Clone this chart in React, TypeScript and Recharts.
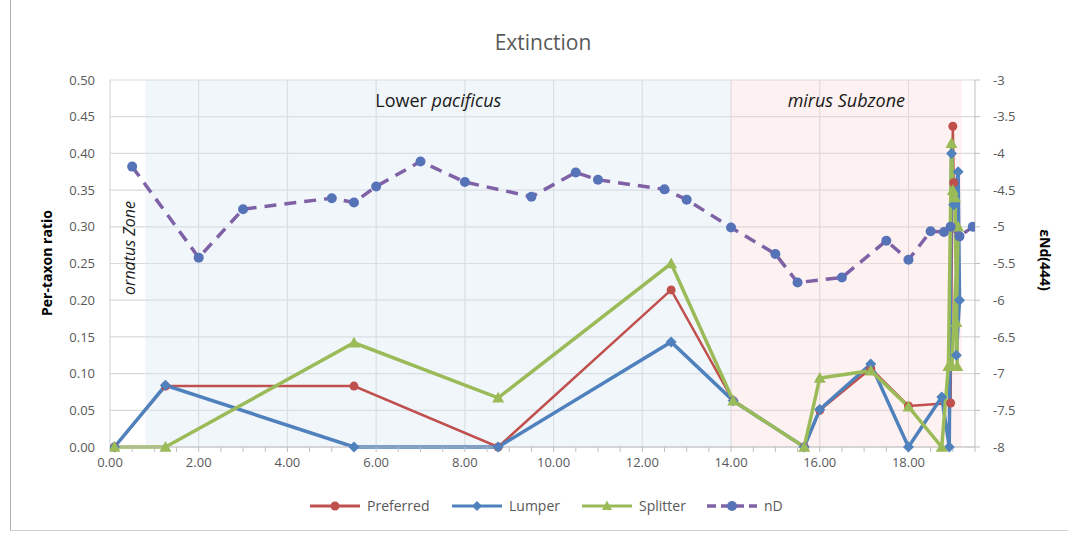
import React from "react";
import { LineChart, Line, XAxis, YAxis, CartesianGrid, ReferenceArea } from "recharts";

// stratigraphic position (x) and per-taxon extinction ratio / εNd values
const preferredPos = [0.1, 1.25, 5.5, 8.75, 12.65, 14.05, 15.65, 16.0, 17.15, 18.0, 18.95, 19.0, 19.02];
const preferredRatio = [0, 0.083, 0.083, 0, 0.214, 0.063, 0, 0.05, 0.107, 0.056, 0.06, 0.437, 0.36];

const lumperPos = [0.1, 1.25, 5.5, 8.75, 12.65, 14.05, 15.65, 16.0, 17.15, 18.0, 18.75, 18.92, 18.97, 19.02, 19.12, 19.15, 19.08];
const lumperRatio = [0, 0.084, 0, 0, 0.143, 0.063, 0, 0.051, 0.113, 0, 0.068, 0, 0.4, 0.33, 0.375, 0.2, 0.125];

const splitterPos = [0.1, 1.25, 5.5, 8.75, 12.65, 14.05, 15.65, 16.0, 17.15, 18.0, 18.75, 18.9, 18.97, 19.0, 19.05, 19.1, 19.08, 19.12, 18.98];
const splitterRatio = [0, 0, 0.142, 0.067, 0.25, 0.063, 0, 0.094, 0.104, 0.055, 0, 0.11, 0.414, 0.35, 0.34, 0.11, 0.17, 0.3, 0.11];

const ndPos = [0.5, 2, 3, 5, 5.5, 6, 7, 8, 9.5, 10.5, 11, 12.5, 13, 14, 15, 15.5, 16.5, 17.5, 18, 18.5, 18.8, 18.95, 19.15, 19.45];
const ndValue = [-4.18, -5.42, -4.76, -4.61, -4.67, -4.45, -4.11, -4.39, -4.59, -4.26, -4.36, -4.49, -4.63, -5.01, -5.37, -5.76, -5.69, -5.19, -5.45, -5.06, -5.07, -5.0, -5.13, -5.0];

const xTicks = [0, 0.5, 1, 1.5, 2, 2.5, 3, 3.5, 4, 4.5, 5, 5.5, 6, 6.5, 7, 7.5, 8, 8.5, 9, 9.5, 10, 10.5, 11, 11.5, 12, 12.5, 13, 13.5, 14, 14.5, 15, 15.5, 16, 16.5, 17, 17.5, 18, 18.5, 19, 19.5];
const xMajor = [0, 2, 4, 6, 8, 10, 12, 14, 16, 18];
const ratioTicks = [0, 0.05, 0.1, 0.15, 0.2, 0.25, 0.3, 0.35, 0.4, 0.45, 0.5];
const ndTicks = [-8, -7.5, -7, -6.5, -6, -5.5, -5, -4.5, -4, -3.5, -3];

// zone boundaries along x
const pacificusZone = [0.8, 14];
const mirusZone = [14, 19.2];

const zip = (xs: number[], ys: number[]) => xs.map((x, i) => ({ x, y: ys[i] }));

const preferredData = zip(preferredPos, preferredRatio);
const lumperData = zip(lumperPos, lumperRatio);
const splitterData = zip(splitterPos, splitterRatio);
const ndData = zip(ndPos, ndValue);

const RED = "#c0504d";
const BLUE = "#4f81bd";
const GREEN = "#9bbb59";
const PURPLE = "#7f62a6";
const ND_DOT = "#5673b8";
const TEXT = "#595959";
const FONT = "'Open Sans', sans-serif";

const circleDot = (fill: string, r: number) => (p: any) => {
  if (p.cx == null || p.cy == null) return <g key={p.key ?? p.index} />;
  return <circle key={p.key ?? p.index} cx={p.cx} cy={p.cy} r={r} fill={fill} />;
};

const diamondDot = (p: any) => {
  if (p.cx == null || p.cy == null) return <g key={p.key ?? p.index} />;
  const r = 5.5;
  const { cx, cy } = p;
  return (
    <polygon
      key={p.key ?? p.index}
      points={`${cx},${cy - r} ${cx + r},${cy} ${cx},${cy + r} ${cx - r},${cy}`}
      fill={BLUE}
    />
  );
};

const triangleDot = (p: any) => {
  if (p.cx == null || p.cy == null) return <g key={p.key ?? p.index} />;
  const r = 6;
  const { cx, cy } = p;
  return (
    <polygon
      key={p.key ?? p.index}
      points={`${cx},${cy - r} ${cx + r},${cy + r * 0.8} ${cx - r},${cy + r * 0.8}`}
      fill={GREEN}
    />
  );
};

const PacificusLabel = (props: any) => {
  const vb = props.viewBox;
  return (
    <text x={vb.x + vb.width / 2} y={vb.y + 27} textAnchor="middle" fontSize={18} fill="#1a1a1a" fontFamily={FONT}>
      Lower <tspan fontStyle="italic">pacificus</tspan>
    </text>
  );
};

const MirusLabel = (props: any) => {
  const vb = props.viewBox;
  return (
    <text x={vb.x + vb.width / 2} y={vb.y + 27} textAnchor="middle" fontSize={18} fill="#1a1a1a" fontFamily={FONT} fontStyle="italic">
      mirus Subzone
    </text>
  );
};

const LegendItem = ({ x, color, label, marker, dashed }: any) => (
  <g>
    <line x1={x} y1={506} x2={x + 50} y2={506} stroke={color} strokeWidth={dashed ? 3.5 : 3} strokeDasharray={dashed ? "9 5" : undefined} />
    {marker}
    <text x={x + 57} y={511} fontSize={14} fill={TEXT} fontFamily={FONT}>{label}</text>
  </g>
);

export default function App() {
  return (
    <div style={{ position: "absolute", left: 0, top: 0, width: 1068, height: 534, background: "#fff" }}>
      <LineChart width={1068} height={534} margin={{ top: 80, right: 0, bottom: 57, left: 0 }}>
        <ReferenceArea yAxisId="ratio" x1={pacificusZone[0]} x2={pacificusZone[1]} y1={0} y2={0.5} fill="#dde8f4" fillOpacity={0.4} stroke="none" label={<PacificusLabel />} />
        <ReferenceArea yAxisId="ratio" x1={mirusZone[0]} x2={mirusZone[1]} y1={0} y2={0.5} fill="#f9d6d6" fillOpacity={0.35} stroke="none" label={<MirusLabel />} />
        <CartesianGrid yAxisId="ratio" stroke="#d9d9d9" strokeWidth={1.2} verticalValues={xMajor} horizontalValues={ratioTicks} />
        <XAxis
          dataKey="x"
          type="number"
          domain={[0, 19.5]}
          ticks={xTicks}
          interval={0}
          allowDataOverflow
          height={30}
          tickSize={5}
          tickMargin={6}
          stroke="#bfbfbf"
          tick={{ fill: TEXT, fontSize: 13, fontFamily: FONT }}
          tickFormatter={(v: number) => (v % 2 === 0 ? v.toFixed(2) : "")}
        />
        <YAxis
          yAxisId="ratio"
          domain={[0, 0.5]}
          ticks={ratioTicks}
          interval={0}
          width={110}
          axisLine={false}
          tickLine={false}
          tickSize={0}
          tickMargin={15}
          tick={{ fill: TEXT, fontSize: 13, fontFamily: FONT }}
          tickFormatter={(v: number) => v.toFixed(2)}
        />
        <YAxis
          yAxisId="nd"
          orientation="right"
          domain={[-8, -3]}
          ticks={ndTicks}
          interval={0}
          width={93}
          stroke="#bfbfbf"
          tickSize={5}
          tickMargin={13}
          tick={{ fill: TEXT, fontSize: 13, fontFamily: FONT }}
          tickFormatter={(v: number) => String(v)}
        />
        <Line yAxisId="ratio" data={preferredData} dataKey="y" type="linear" stroke={RED} strokeWidth={2.5} dot={circleDot(RED, 4.5)} isAnimationActive={false} />
        <Line yAxisId="ratio" data={lumperData} dataKey="y" type="linear" stroke={BLUE} strokeWidth={3.5} dot={diamondDot} isAnimationActive={false} />
        <Line yAxisId="ratio" data={splitterData} dataKey="y" type="linear" stroke={GREEN} strokeWidth={3.5} dot={triangleDot} isAnimationActive={false} />
        <Line yAxisId="nd" data={ndData} dataKey="y" type="linear" stroke={PURPLE} strokeWidth={3.5} strokeDasharray="12 8" dot={circleDot(ND_DOT, 5)} isAnimationActive={false} />
      </LineChart>

      <svg width={1068} height={534} style={{ position: "absolute", left: 0, top: 0, pointerEvents: "none" }}>
        <line x1={10.5} y1={0} x2={10.5} y2={530} stroke="#b0b0b0" />
        <line x1={10} y1={530.5} x2={1068} y2={530.5} stroke="#d0d0d0" />
        <text x={543} y={50} textAnchor="middle" fontSize={21} fill={TEXT} fontFamily={FONT}>Extinction</text>
        <text x={52} y={263} transform="rotate(-90 52 263)" textAnchor="middle" fontSize={14} fontWeight="bold" fill="#000" fontFamily={FONT}>Per-taxon ratio</text>
        <text x={1040} y={260} transform="rotate(90 1040 260)" textAnchor="middle" fontSize={14} fontWeight="bold" fill="#000" fontFamily={FONT}>εNd(444)</text>
        <text x={135} y={248} transform="rotate(-90 135 248)" textAnchor="middle" fontSize={16} fontStyle="italic" fill="#1a1a1a" fontFamily={FONT}>ornatus Zone</text>
        <LegendItem x={310} color={RED} label="Preferred" marker={<circle cx={335} cy={506} r={4.5} fill={RED} />} />
        <LegendItem x={452} color={BLUE} label="Lumper" marker={<polygon points="477,501 482,506 477,511 472,506" fill={BLUE} />} />
        <LegendItem x={582} color={GREEN} label="Splitter" marker={<polygon points="607,500.5 612,510 602,510" fill={GREEN} />} />
        <LegendItem x={707} color={PURPLE} label="nD" dashed marker={<circle cx={732} cy={506} r={5} fill={ND_DOT} />} />
      </svg>
    </div>
  );
}
